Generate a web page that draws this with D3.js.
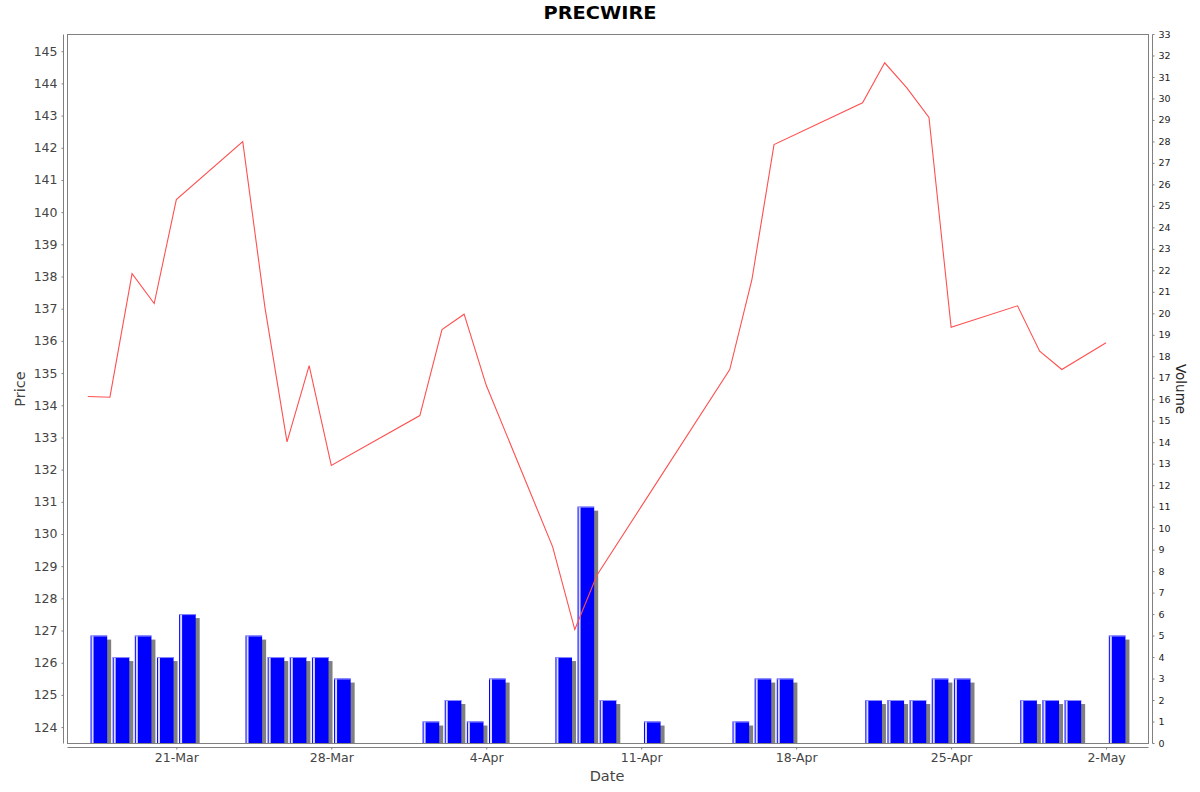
<!DOCTYPE html>
<html>
<head>
<meta charset="utf-8">
<script src="https://cdn.jsdelivr.net/npm/d3@7.9.0/dist/d3.min.js"></script>
<style>
  html, body { margin: 0; padding: 0; background: #fff; }
  svg { display: block; font-family: "DejaVu Sans", sans-serif; }
</style>
</head>
<body>
<svg id="chart" width="1200" height="792"></svg>
<script>
// trading days (2025)
const dates = [
  '2025-03-17', '2025-03-18', '2025-03-19', '2025-03-20', '2025-03-21',
  '2025-03-24', '2025-03-25', '2025-03-26', '2025-03-27', '2025-03-28',
  '2025-04-01', '2025-04-02', '2025-04-03', '2025-04-04',
  '2025-04-07', '2025-04-08', '2025-04-09', '2025-04-11',
  '2025-04-15', '2025-04-16', '2025-04-17',
  '2025-04-21', '2025-04-22', '2025-04-23', '2025-04-24', '2025-04-25',
  '2025-04-28', '2025-04-29', '2025-04-30', '2025-05-02'
];

const prices = [
  134.27, 134.25, 138.09, 137.16, 140.39,
  142.19, 137.05, 132.86, 135.23, 132.13,
  133.68, 136.35, 136.83, 134.62,
  129.60, 127.03, 128.72, 130.85,
  135.11, 137.90, 142.10,
  143.40, 144.64, 143.86, 142.94, 136.42,
  137.09, 135.68, 135.11, 135.94
];

const volumes = [
  5, 4, 5, 4, 6,
  5, 4, 4, 4, 3,
  1, 2, 1, 3,
  4, 11, 2, 1,
  1, 3, 3,
  2, 2, 2, 3, 3,
  2, 2, 2, 5
];

const xTickDates = ['2025-03-21', '2025-03-28', '2025-04-04', '2025-04-11', '2025-04-18', '2025-04-25', '2025-05-02'];
const priceTicks = d3.range(124, 146);
const volumeTicks = d3.range(0, 34);

const parse = d3.timeParse('%Y-%m-%d');
const data = dates.map((d, i) => ({ date: parse(d), price: prices[i], volume: volumes[i] }));

const svg = d3.select('#chart');

// plot area
const L = 67.5, R = 1148.5, T = 34.5, B = 743.5;

const x = d3.scaleTime()
  .domain([d3.timeHour.offset(parse('2025-03-17'), -21.7), d3.timeHour.offset(parse('2025-05-02'), 46.7)])
  .range([L, R]);
const yPrice = d3.scaleLinear().domain([123.49, 145.52]).range([B, T]);
const yVol = d3.scaleLinear().domain([0, 33]).range([B - 0.5, T - 0.5]);

svg.append('defs').append('clipPath').attr('id', 'plot-clip')
  .append('rect').attr('x', L).attr('y', T).attr('width', R - L).attr('height', B - T);

const plot = svg.append('g').attr('clip-path', 'url(#plot-clip)');

// volume bars with shadow
const bars = plot.selectAll('g.bar').data(data).enter().append('g').attr('class', 'bar');
const bx0 = d => x(d3.timeHour.offset(d.date, 3));
const bx1 = d => x(d3.timeHour.offset(d.date, 21.5));

bars.append('rect')
  .attr('x', d => bx0(d) + 4)
  .attr('y', d => yVol(d.volume) + 4)
  .attr('width', d => bx1(d) - bx0(d))
  .attr('height', d => yVol(0) - yVol(d.volume))
  .attr('fill', '#808080');

bars.append('rect')
  .attr('x', bx0)
  .attr('y', d => yVol(d.volume))
  .attr('width', d => bx1(d) - bx0(d))
  .attr('height', d => yVol(0) - yVol(d.volume))
  .attr('fill', '#0000ff');

// highlight strip and top edge
bars.append('rect')
  .attr('x', d => bx0(d) + 1)
  .attr('y', d => yVol(d.volume))
  .attr('width', 2)
  .attr('height', d => yVol(0) - yVol(d.volume))
  .attr('fill', '#ffffff')
  .attr('opacity', 0.85);

bars.append('line')
  .attr('x1', bx0)
  .attr('x2', bx1)
  .attr('y1', d => yVol(d.volume) + 0.5)
  .attr('y2', d => yVol(d.volume) + 0.5)
  .attr('stroke', '#8c8cff')
  .attr('stroke-width', 1);

// price line
const line = d3.line().x(d => x(d.date)).y(d => yPrice(d.price));
plot.append('path')
  .datum(data)
  .attr('d', line)
  .attr('fill', 'none')
  .attr('stroke', '#ff5050')
  .attr('stroke-width', 1.1);

// plot border
svg.append('rect')
  .attr('x', L).attr('y', T).attr('width', R - L).attr('height', B - T)
  .attr('fill', 'none').attr('stroke', '#808080').attr('stroke-width', 1);

// left price axis
const leftAxis = svg.append('g').attr('transform', `translate(${L - 4},0)`)
  .call(d3.axisLeft(yPrice).tickValues(priceTicks).tickSize(2).tickPadding(4).tickSizeOuter(0));
leftAxis.select('.domain').attr('d', `M0,${T}V${B}`);

// right volume axis
const rightAxis = svg.append('g').attr('transform', `translate(${R + 4},0)`)
  .call(d3.axisRight(yVol).tickValues(volumeTicks).tickSize(2).tickPadding(4).tickSizeOuter(0));
rightAxis.select('.domain').attr('d', `M0,${T}V${B}`);

// bottom date axis
const bottomAxis = svg.append('g').attr('transform', `translate(0,${B + 4})`)
  .call(d3.axisBottom(x).tickValues(xTickDates.map(parse)).tickFormat(d3.timeFormat('%-d-%b'))
    .tickSize(2).tickPadding(4).tickSizeOuter(0));
bottomAxis.select('.domain').attr('d', `M${L},0H${R}`);

svg.selectAll('.domain').attr('stroke', '#808080');
svg.selectAll('.tick line').attr('stroke', '#808080');
leftAxis.selectAll('.tick text').attr('font-size', 12.5).attr('fill', '#444').attr('font-family', '"DejaVu Sans", sans-serif');
bottomAxis.selectAll('.tick text').attr('font-size', 12.5).attr('fill', '#444').attr('font-family', '"DejaVu Sans", sans-serif');
rightAxis.selectAll('.tick text').attr('font-size', 9.5).attr('fill', '#222').attr('font-family', '"DejaVu Sans", sans-serif');

// titles
svg.append('text')
  .attr('x', 600).attr('y', 19)
  .attr('text-anchor', 'middle')
  .attr('font-size', 18).attr('font-weight', 'bold').attr('fill', '#000')
  .attr('textLength', 113).attr('lengthAdjust', 'spacingAndGlyphs')
  .text('PRECWIRE');

svg.append('text')
  .attr('x', 607).attr('y', 781)
  .attr('text-anchor', 'middle')
  .attr('font-size', 14.5).attr('fill', '#444')
  .text('Date');

svg.append('text')
  .attr('transform', 'translate(25,389) rotate(-90)')
  .attr('text-anchor', 'middle')
  .attr('font-size', 14.5).attr('fill', '#444')
  .text('Price');

svg.append('text')
  .attr('transform', 'translate(1176,389) rotate(90)')
  .attr('text-anchor', 'middle')
  .attr('font-size', 13.5).attr('fill', '#222')
  .text('Volume');
</script>
</body>
</html>
